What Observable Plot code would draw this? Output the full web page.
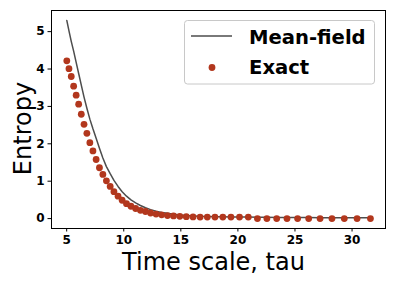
<!DOCTYPE html>
<html>
<head>
<meta charset="utf-8">
<script src="https://cdn.jsdelivr.net/npm/d3@7"></script>
<script src="https://cdn.jsdelivr.net/npm/@observablehq/plot@0.6"></script>
<style>
  html, body { margin: 0; padding: 0; background: #fff; }
  svg { display: block; }
</style>
</head>
<body>
<div id="chart"></div>
<script>
// time scale values (tau)
const tau = [5.01, 5.20, 5.40, 5.61, 5.83, 6.05, 6.28, 6.52, 6.77, 7.03,
  7.30, 7.58, 7.87, 8.17, 8.48, 8.81, 9.14, 9.50, 9.86, 10.24,
  10.63, 11.04, 11.46, 11.90, 12.35, 12.83, 13.32, 13.83, 14.36, 14.91,
  15.48, 16.07, 16.69, 17.32, 17.99, 18.68, 19.39, 20.14, 20.91, 21.71,
  22.54, 23.40, 24.30, 25.23, 26.20, 27.20, 28.24, 29.32, 30.44, 31.61];
// mean-field entropy (line)
const meanField = [5.30, 5.02, 4.74, 4.48, 4.18, 3.88, 3.57, 3.25, 2.95, 2.66,
  2.40, 2.15, 1.88, 1.62, 1.39, 1.20, 1.02, 0.86, 0.72, 0.60,
  0.50, 0.42, 0.35, 0.29, 0.24, 0.20, 0.165, 0.14, 0.115, 0.095,
  0.08, 0.07, 0.06, 0.055, 0.05, 0.047, 0.045, 0.043, 0.04, 0.035,
  0.033, 0.03, 0.03, 0.028, 0.026, 0.025, 0.024, 0.022, 0.021, 0.02];
// exact entropy (points)
const exact = [4.22, 4.01, 3.80, 3.54, 3.30, 3.06, 2.79, 2.52, 2.28, 2.03,
  1.81, 1.58, 1.36, 1.18, 1.01, 0.86, 0.72, 0.60, 0.49, 0.40,
  0.33, 0.27, 0.22, 0.19, 0.15, 0.12, 0.10, 0.08, 0.07, 0.06,
  0.05, 0.045, 0.04, 0.04, 0.04, 0.04, 0.04, 0.04, 0.04, 0.0,
  0.0, 0.0, 0.0, 0.0, 0.0, 0.0, 0.0, 0.0, 0.0, 0.0];
const xTicks = [5, 10, 15, 20, 25, 30];
const yTicks = [0, 1, 2, 3, 4, 5];
const seriesNames = ["Mean-field", "Exact"];
const xLabel = "Time scale, tau";
const yLabel = "Entropy";

const lineData = tau.map((t, i) => ({t, v: meanField[i]}));
const ptData = tau.map((t, i) => ({t, v: exact[i]}));

const lineColor = "#4d4d4d";
const dotColor = "#b2371d";
const font = "DejaVu Sans";

const plot = Plot.plot({
  width: 396,
  height: 283,
  marginLeft: 51,
  marginRight: 11,
  marginTop: 10,
  marginBottom: 55,
  style: {fontFamily: font, background: "#fff", color: "#000"},
  x: {domain: [3.67, 32.93]},
  y: {domain: [-0.265, 5.565]},
  marks: [
    Plot.line(lineData, {x: "t", y: "v", stroke: lineColor, strokeWidth: 1.5}),
    Plot.dot(ptData, {x: "t", y: "v", r: 3.4, fill: dotColor, stroke: "none"}),
    Plot.frame({stroke: "#000", strokeWidth: 1}),
    Plot.axisX({ticks: xTicks, tickFormat: d => String(d), tickSize: 3.5, tickPadding: 3, fontSize: 12, fontWeight: "bold", label: null, stroke: "#000"}),
    Plot.axisY({ticks: yTicks, tickFormat: d => String(d), tickSize: 3.5, tickPadding: 3.5, fontSize: 12, fontWeight: "bold", label: null, stroke: "#000"}),
    Plot.text([xLabel], {frameAnchor: "bottom", dx: -5, dy: 41, fontSize: 24, fill: "#000", text: d => d})
  ]
});

const svg = d3.select(plot);
// y-axis label
svg.append("text")
  .attr("transform", "translate(31,128.5) rotate(-90)")
  .attr("text-anchor", "middle")
  .attr("font-family", font)
  .attr("font-size", 24)
  .attr("fill", "#000")
  .text(yLabel);

// legend
const lg = svg.append("g").attr("font-family", font).attr("text-anchor", "start");
lg.append("rect").attr("x", 184.5).attr("y", 20.5).attr("width", 190).attr("height", 63.5)
  .attr("rx", 3).attr("fill", "#ffffff").attr("stroke", "#c8c8c8").attr("stroke-width", 1);
lg.append("line").attr("x1", 191).attr("x2", 232).attr("y1", 36).attr("y2", 36)
  .attr("stroke", lineColor).attr("stroke-width", 1.5);
lg.append("circle").attr("cx", 212).attr("cy", 67.5).attr("r", 3.4).attr("fill", dotColor);
lg.append("text").attr("x", 249).attr("y", 43.5).attr("font-size", 19.6).attr("font-weight", "bold").attr("fill", "#000").text(seriesNames[0]);
lg.append("text").attr("x", 249).attr("y", 73.5).attr("font-size", 19.6).attr("font-weight", "bold").attr("fill", "#000").text(seriesNames[1]);

document.getElementById("chart").appendChild(plot);
</script>
</body>
</html>
